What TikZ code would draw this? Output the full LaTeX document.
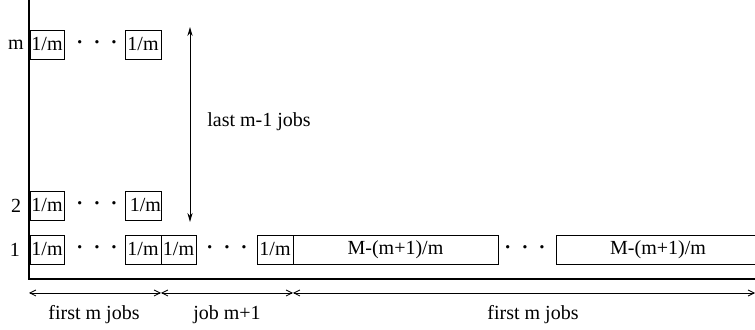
\documentclass[tikz,border=0pt]{standalone}
\usepackage{fontspec}
\setmainfont{Liberation Serif}
\usetikzlibrary{arrows.meta}
\newcommand{\mydots}{\fontsize{14}{14}\selectfont\textperiodcentered\hspace{3.9pt}\textperiodcentered\hspace{3.9pt}\textperiodcentered}
\begin{document}
\begin{tikzpicture}[x=0.5pt,y=-0.5pt,
  box/.style={draw,line width=0.45pt,inner sep=0pt,minimum height=14.5pt,font=\fontsize{10}{12}\selectfont},
  lbl/.style={inner sep=0pt,font=\fontsize{10}{12}\selectfont},
  dotsn/.style={inner sep=0pt},
  axis/.style={line width=1.1pt},
  span/.style={line width=0.4pt,{Straight Barb[length=3pt,width=3pt]}-{Straight Barb[length=3pt,width=3pt]}},
  vspan/.style={line width=0.5pt,{Stealth[length=4.5pt,width=2.6pt]}-{Stealth[length=4.5pt,width=2.6pt]}}]
\useasboundingbox (0,0) rectangle (755,330);
\clip (0,0) rectangle (755,330);
% axes
\coordinate (top) at (29,0);
\coordinate (o) at (29,279);
\coordinate (right) at (760,279);
\draw[axis] (top) -- (o) -- (right);
% row labels
\node[lbl] (lm) at (16,44.5) {m};
\node[lbl] (l2) at (16,205.5) {2};
\node[lbl] (l1) at (15,249.5) {1};
% row m
\node[box,minimum width=17pt] (m1) at (47,44.5) {1/m};
\node[dotsn] (md) at (97,46.5) {\mydots};
\node[box,minimum width=18pt] (m2) at (143,44.5) {1/m};
% row 2
\node[box,minimum width=17pt] (b1) at (47,205.5) {1/m};
\node[dotsn] (bd) at (97,207.5) {\mydots};
\node[box,text width=18pt,inner xsep=0pt,align=right] (b2) at (143,205.5) {1/m};
% row 1
\node[box,minimum width=17pt] (a1) at (47,249.5) {1/m};
\node[dotsn] (ad) at (97,251.5) {\mydots};
\node[box,minimum width=18pt] (a2) at (143,249.5) {1/m};
\node[box,minimum width=17.5pt] (a3) at (178.5,249.5) {1/m};
\node[dotsn] (ad2) at (227,251.5) {\mydots};
\node[box,minimum width=18pt] (a4) at (275,249.5) {1/m};
\node[box,minimum width=102.5pt] (a5) at (395.5,249.5) {M-(m+1)/m};
\node[dotsn] (ad3) at (525,251.5) {\mydots};
\node[box,minimum width=102pt] (a6) at (658,249.5) {M-(m+1)/m};
% vertical arrow
\coordinate (vt) at (190,27);
\coordinate (vb) at (190,222);
\draw[vspan] (vt) -- (vb);
\node[lbl,anchor=west] (vl) at (207,122) {last m-1 jobs};
% bottom spans
\coordinate (s0) at (29,293);
\coordinate (s1) at (161,293);
\coordinate (s2) at (293,293);
\coordinate (s3) at (755,293);
\draw[span] (s0) -- (s1);
\draw[span] (s1) -- (s2);
\draw[span] (s2) -- (s3);
\node[lbl] (t1) at (94,315) {first m jobs};
\node[lbl] (t2) at (227,315) {job m+1};
\node[lbl] (t3) at (533,315) {first m jobs};
\end{tikzpicture}
\end{document}
